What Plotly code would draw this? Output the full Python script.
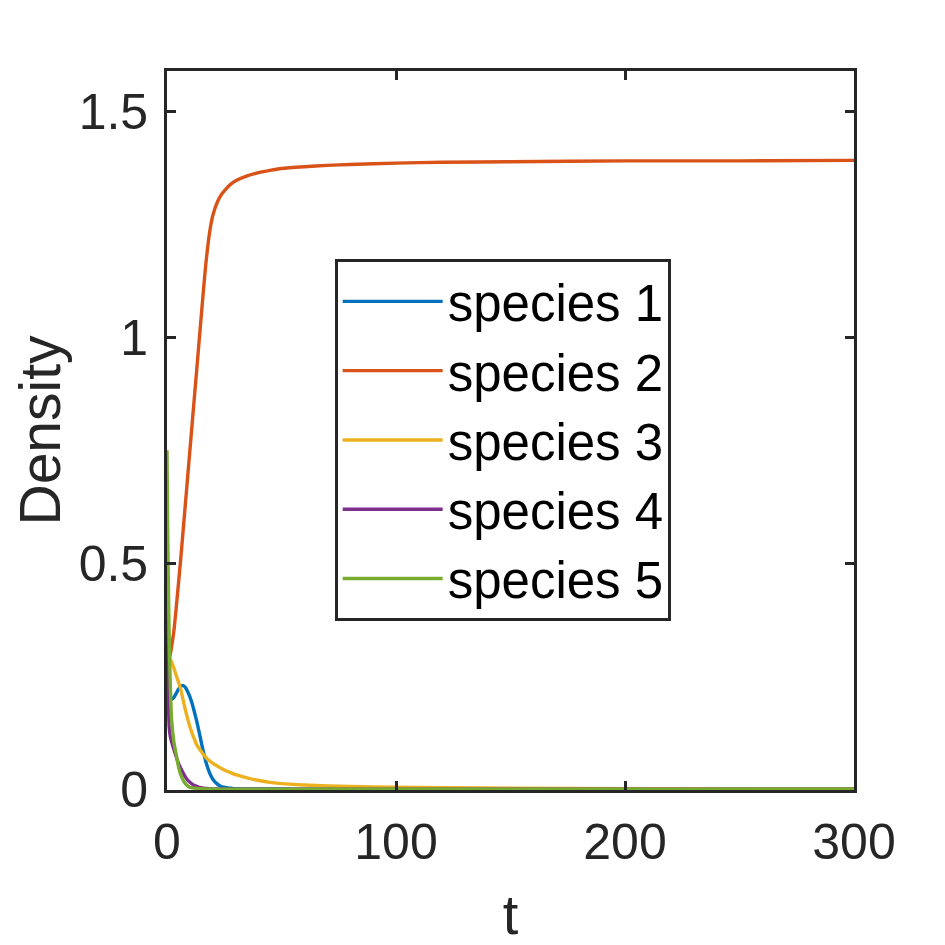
import plotly.graph_objects as go

# time grid (non-uniform, dense near t=0 where everything happens)
t = [0, 0.25, 0.5, 1, 1.5, 2, 3, 4, 5, 6, 7, 8, 9, 10, 11, 12, 13, 14, 15, 16,
     17, 18, 19, 20, 22, 24, 26, 28, 30, 35, 40, 45, 50, 60, 70, 80,
     100, 120, 150, 200, 250, 300]

species1 = [0.30, 0.27, 0.245, 0.215, 0.202, 0.199, 0.203, 0.212, 0.221, 0.228,
            0.229, 0.225, 0.216, 0.204, 0.189, 0.170, 0.150, 0.127, 0.103, 0.080,
            0.060, 0.044, 0.031, 0.022, 0.011, 0.005, 0.003, 0.002, 0.001, 0.0005,
            0.0003, 0.0002, 0.0001, 0, 0, 0,
            0, 0, 0, 0, 0, 0]
species2 = [0.27, 0.275, 0.28, 0.29, 0.30, 0.315, 0.35, 0.40, 0.455, 0.51,
            0.57, 0.63, 0.69, 0.75, 0.81, 0.87, 0.93, 0.99, 1.05, 1.11,
            1.165, 1.21, 1.245, 1.27, 1.30, 1.318, 1.330, 1.340, 1.347, 1.358,
            1.365, 1.370, 1.374, 1.378, 1.381, 1.383,
            1.386, 1.388, 1.389, 1.391, 1.391, 1.392]
species3 = [0.30, 0.298, 0.297, 0.292, 0.287, 0.281, 0.268, 0.252, 0.237, 0.221,
            0.198, 0.176, 0.156, 0.138, 0.123, 0.110, 0.098, 0.090, 0.083, 0.076,
            0.070, 0.065, 0.061, 0.057, 0.051, 0.045, 0.040, 0.036, 0.032, 0.025,
            0.019, 0.015, 0.012, 0.009, 0.007, 0.006,
            0.004, 0.003, 0.002, 0.001, 0.0005, 0.0003]
species4 = [0.62, 0.35, 0.22, 0.135, 0.115, 0.105, 0.088, 0.072, 0.057, 0.046,
            0.036, 0.027, 0.020, 0.015, 0.011, 0.008, 0.006, 0.004, 0.003, 0.002,
            0.0015, 0.001, 0.0007, 0.0005, 0.0002, 0.0001, 0, 0, 0, 0,
            0, 0, 0, 0, 0, 0,
            0, 0, 0, 0, 0, 0]
species5 = [0.75, 0.60, 0.49, 0.32, 0.22, 0.155, 0.105, 0.077, 0.050, 0.032,
            0.020, 0.012, 0.007, 0.004, 0.003, 0.002, 0.0015, 0.001, 0.0007, 0.0005,
            0.0003, 0.0002, 0.0001, 0, 0, 0, 0, 0, 0, 0,
            0, 0, 0, 0, 0, 0,
            0, 0, 0, 0, 0, 0]

names = ["species 1", "species 2", "species 3", "species 4", "species 5"]
colors = ["#0072BD", "#D95319", "#EDB120", "#7E2F8E", "#77AC30"]
series = [species1, species2, species3, species4, species5]

axcol = "#262626"
font = "Liberation Sans, Arial, Helvetica, sans-serif"

fig = go.Figure()
for name, col, ys in zip(names, colors, series):
    fig.add_trace(go.Scatter(x=t, y=ys, mode="lines", name=name,
                             line=dict(color=col, width=3.4, shape="spline", smoothing=0.6)))

# page body adds 8px offset, margins compensate
fig.update_layout(
    width=945, height=945,
    margin=dict(l=159, r=99, t=63, b=163),
    paper_bgcolor="white", plot_bgcolor="white",
    font=dict(family=font, size=50, color=axcol),
    legend=dict(x=0.2445, y=0.7385, xanchor="left", yanchor="top",
                bgcolor="white", bordercolor=axcol, borderwidth=2.7,
                font=dict(size=51, color="black"), itemwidth=100,
                entrywidth=240, entrywidthmode="pixels",
                tracegroupgap=0),
    showlegend=True,
)
fig.update_xaxes(
    range=[0, 300], tickvals=[0, 100, 200, 300],
    showgrid=False, zeroline=False,
    showline=True, linecolor=axcol, linewidth=2.7, mirror="ticks",
    ticks="inside", ticklen=9, tickwidth=2.5, tickcolor=axcol,
    ticklabelstandoff=6,
    title=dict(text="t", font=dict(size=56, color=axcol), standoff=26),
)
fig.update_yaxes(
    range=[-0.002, 1.59], tickvals=[0, 0.5, 1, 1.5], ticktext=["0", "0.5", "1", "1.5"],
    showgrid=False, zeroline=False,
    showline=True, linecolor=axcol, linewidth=2.7, mirror="ticks",
    ticks="inside", ticklen=9, tickwidth=2.5, tickcolor=axcol,
    ticklabelstandoff=6,
    title=dict(text="Density", font=dict(size=57, color=axcol), standoff=6),
)

fig.write_html("out.html")
